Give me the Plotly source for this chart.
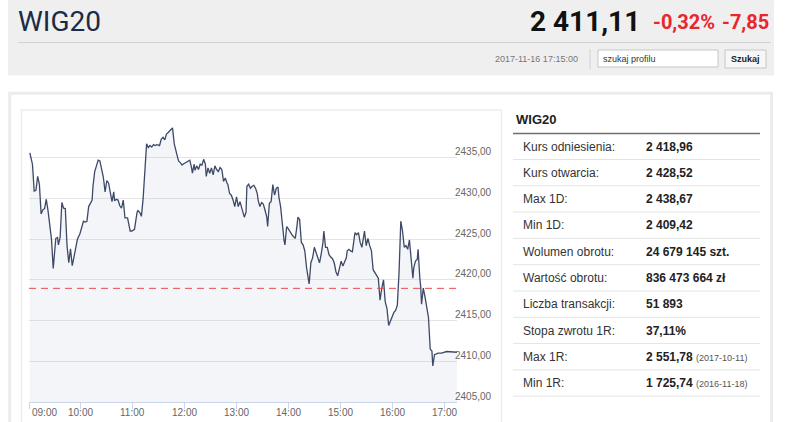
import pandas as pd
import plotly.graph_objects as go

# -------------------------------
# Data (WIG20, 2017-11-16)
# -------------------------------
session_day = "2017-11-16"

minutes_after_open = [
    1, 4, 6, 8, 10, 12, 14, 16, 18, 20, 22, 24, 26, 28, 31, 33, 34, 36, 38, 40,
    42, 44, 46, 48, 50, 52, 54, 56, 59, 61, 63, 65, 67, 69, 71, 73, 74, 76, 78, 80,
    82, 84, 86, 88, 90, 92, 94, 96, 98, 99, 101, 103, 105, 107, 109, 111, 114, 117, 119, 122,
    125, 126, 128, 130, 132, 134, 136, 138, 140, 142, 144, 146, 148, 150, 151, 153, 155, 157, 159, 161,
    163, 165, 166, 168, 171, 173, 175, 177, 178, 180, 182, 184, 186, 188, 189, 191, 192, 194, 196, 198,
    200, 202, 204, 205, 207, 209, 211, 213, 215, 217, 219, 221, 223, 225, 227, 229, 230, 232, 234, 236,
    238, 240, 242, 244, 246, 249, 251, 252, 254, 256, 258, 260, 262, 264, 265, 267, 269, 271, 273, 275,
    276, 278, 280, 282, 284, 286, 288, 289, 291, 293, 295, 296, 298, 300, 302, 304, 306, 308, 310, 311,
    313, 315, 317, 319, 321, 323, 324, 326, 328, 330, 332, 334, 336, 338, 340, 341, 343, 345, 347, 349,
    351, 353, 355, 357, 359, 361, 363, 365, 367, 368, 370, 372, 374, 377, 379, 381, 383, 385, 387, 388,
    390, 392, 394, 396, 398, 400, 402, 404, 406, 408, 410, 412, 414, 416, 418, 420, 422, 424, 426, 428,
    429, 430, 432, 434, 436, 438, 440, 442, 444, 445, 447, 449, 450, 452, 453, 454, 456, 458, 460, 462,
    464, 466, 467, 469, 473, 477, 483, 489, 495,
]

wig20 = [
    2435.6, 2434.2, 2430.9, 2431.0, 2432.7, 2431.75, 2428.1, 2428.6, 2428.75, 2429.9,
    2428.5, 2426.5, 2425.0, 2421.4, 2425.1, 2425.2, 2424.3, 2425.2, 2429.5, 2428.8,
    2428.75, 2424.2, 2422.1, 2423.8, 2421.75, 2422.8, 2423.75, 2425.0, 2425.7, 2426.5,
    2427.2, 2427.1, 2427.2, 2429.0, 2429.5, 2429.8, 2431.5, 2433.3, 2434.0, 2434.7,
    2434.6, 2433.75, 2432.6, 2430.8, 2432.2, 2431.9, 2430.8, 2429.6, 2430.8, 2429.7,
    2429.9, 2429.8, 2429.1, 2428.8, 2429.8, 2427.6, 2427.6, 2426.0, 2426.0, 2426.2,
    2428.3, 2428.5, 2428.3, 2427.8, 2430.0, 2433.3, 2436.7, 2436.25, 2436.5, 2436.3,
    2436.6, 2436.5, 2436.6, 2436.55, 2436.5, 2437.3, 2437.5, 2437.2, 2437.9, 2438.1,
    2438.4, 2438.55, 2438.67, 2436.7, 2435.4, 2434.6, 2434.4, 2434.1, 2434.2, 2434.3,
    2434.4, 2434.6, 2434.7, 2433.75, 2433.1, 2434.2, 2433.45, 2434.0, 2433.55, 2434.2,
    2434.1, 2434.8, 2434.2, 2432.7, 2433.75, 2433.1, 2433.75, 2432.9, 2434.0, 2433.55,
    2433.3, 2433.8, 2433.55, 2432.1, 2432.5, 2431.9, 2431.7, 2430.6, 2430.4, 2429.8,
    2429.0, 2430.2, 2429.0, 2429.6, 2428.75, 2427.7, 2428.3, 2431.5, 2431.75, 2431.25,
    2431.5, 2431.6, 2431.25, 2430.6, 2429.8, 2429.0, 2429.5, 2429.3, 2428.55, 2427.7,
    2426.55, 2429.4, 2429.6, 2431.7, 2430.4, 2431.25, 2431.4, 2430.2, 2429.0, 2426.7,
    2424.8, 2424.3, 2426.55, 2426.25, 2425.8, 2425.55, 2425.3, 2425.1, 2426.7, 2427.7,
    2427.4, 2424.6, 2424.3, 2423.55, 2421.5, 2420.0, 2419.5, 2422.1, 2422.7, 2424.0,
    2423.3, 2422.9, 2422.1, 2423.2, 2424.6, 2426.0, 2424.0, 2424.0, 2423.1, 2422.8,
    2422.6, 2422.1, 2421.0, 2420.5, 2421.25, 2422.3, 2421.7, 2422.3, 2422.7, 2423.55,
    2423.75, 2423.55, 2423.45, 2425.8, 2425.55, 2425.8, 2424.6, 2424.0, 2425.8, 2426.0,
    2424.2, 2425.1, 2424.2, 2423.6, 2421.25, 2420.8, 2420.55, 2420.2, 2417.5, 2419.0,
    2420.0, 2417.3, 2416.5, 2414.4, 2415.0, 2415.6, 2416.0, 2416.25, 2416.9, 2421.0,
    2425.0, 2427.2, 2426.0, 2424.0, 2424.2, 2423.75, 2424.9, 2422.1, 2420.2, 2421.5,
    2422.3, 2422.5, 2423.75, 2420.2, 2419.2, 2417.0, 2419.0, 2417.9, 2416.7, 2415.4,
    2411.5, 2411.25, 2409.42, 2410.8, 2411.0, 2411.0, 2411.2, 2411.2, 2411.11,
]

ref_price = 2418.96

hour_ticks = ["09:00", "10:00", "11:00", "12:00", "13:00", "14:00", "15:00", "16:00", "17:00"]
y_ticks = [2405, 2410, 2415, 2420, 2425, 2430, 2435, 2440]
y_tick_labels = ["2405,00", "2410,00", "2415,00", "2420,00", "2425,00", "2430,00", "2435,00", ""]

stat_labels = [
    "Kurs odniesienia:", "Kurs otwarcia:", "Max 1D:", "Min 1D:", "Wolumen obrotu:",
    "Wartość obrotu:", "Liczba transakcji:", "Stopa zwrotu 1R:", "Max 1R:", "Min 1R:",
]
stat_values = [
    "2 418,96", "2 428,52", "2 438,67", "2 409,42", "24 679 145 szt.",
    "836 473 664 zł", "51 893", "37,11%", "2 551,78", "1 725,74",
]
stat_dates = ["", "", "", "", "", "", "", "", "(2017-10-11)", "(2016-11-18)"]

last_price = "2 411,11"
change_pct = "-0,32%"
change_abs = "-7,85"
stamp = "2017-11-16 17:15:00"

# -------------------------------
# Page geometry (pixels) -> paper coords
# -------------------------------
W, H = 786, 422
PL, PR, PT, PB = 29, 457, 117, 402


def px(X):
    return (X - PL) / (PR - PL)


def py(Y):
    return (PB - Y) / (PB - PT)


times = pd.Timestamp(session_day + " 09:00") + pd.to_timedelta(minutes_after_open, unit="min")
tick_times = [pd.Timestamp(session_day + " " + h) for h in hour_ticks]

fig = go.Figure()

fig.add_trace(go.Scatter(
    x=times, y=wig20,
    mode="lines",
    line=dict(color="#3d4966", width=1.3),
    fill="tozeroy",
    fillcolor="rgba(180,190,210,0.15)",
    hoverinfo="x+y",
    showlegend=False,
))

shapes = []


def rect(x0, y0, x1, y1, fill="rgba(0,0,0,0)", line="rgba(0,0,0,0)", lw=0):
    shapes.append(dict(type="rect", xref="paper", yref="paper",
                       x0=px(x0), x1=px(x1), y0=py(y1), y1=py(y0),
                       fillcolor=fill, line=dict(color=line, width=lw), layer="below"))


def hline(x0, x1, y, color, lw=1):
    shapes.append(dict(type="line", xref="paper", yref="paper",
                       x0=px(x0), x1=px(x1), y0=py(y), y1=py(y),
                       line=dict(color=color, width=lw), layer="below"))


# header band
rect(8, -5, 774, 75.5, fill="#efefef")
hline(18, 771, 42.5, "#d2d2d2")
shapes.append(dict(type="line", xref="paper", yref="paper", x0=px(590), x1=px(590),
                   y0=py(69), y1=py(49), line=dict(color="#d0d0d0", width=1), layer="below"))
rect(598, 50, 718, 67, fill="white", line="#c6c6c6", lw=1)
rect(725, 50, 766, 68, fill="#f7f7f7", line="#c6c6c6", lw=1)

# main panel + chart frame
rect(9.7, 93.3, 771.5, 445, line="#ececec", lw=3)
rect(21.5, 110, 501.5, 445, line="#ededed", lw=1.5)

# stats table lines
hline(513, 760, 133.5, "#6e6e6e", 1.5)
for i in range(len(stat_labels)):
    hline(513, 760, 159.5 + 26.3 * i, "#e4e4e4")

# reference price line
shapes.append(dict(type="line", xref="paper", yref="y", x0=0, x1=1, y0=ref_price, y1=ref_price,
                   line=dict(color="#ec4a4a", width=1, dash="7px,5px")))

ann = []


def text(x, y, s, size, color, anchor="left", family="Liberation Sans, Arial, sans-serif", yanchor="middle"):
    ann.append(dict(x=px(x), y=py(y), xref="paper", yref="paper", text=s, showarrow=False,
                    xanchor=anchor, yanchor=yanchor,
                    font=dict(size=size, color=color, family=family)))


head = "Roboto, Liberation Sans, sans-serif"
text(16, 21, "WIG20", 28, "#1b2a47", family=head)
text(642, 21, "<b>" + last_price + "</b>", 28, "#111111", anchor="right", family=head)
text(651, 22, "<b>" + change_pct + "</b>", 20, "#e8262b", family=head)
text(771, 22, "<b>" + change_abs + "</b>", 20, "#e8262b", anchor="right", family=head)
text(580, 59, stamp, 9, "#777777", anchor="right")
text(601, 58.5, "szukaj profilu", 9, "#333333")
text(745.5, 59, "<b>Szukaj</b>", 9, "#222222", anchor="center")

# stats table
text(514, 119, "<b>WIG20</b>", 13, "#222222")
for i, (lab, val, d) in enumerate(zip(stat_labels, stat_values, stat_dates)):
    yy = 146.5 + 26.3 * i
    text(521, yy, lab, 12, "#333333")
    s = "<b>" + val + "</b>"
    if d:
        s += " <span style='font-size:9px;color:#555555'>" + d + "</span>"
    text(644, yy, s, 12, "#222222")

# axis labels
for v, lab in zip(y_ticks, y_tick_labels):
    if lab:
        ann.append(dict(x=px(453), xref="paper", y=v, yref="y", yshift=6, text=lab,
                        showarrow=False, xanchor="left", yanchor="middle",
                        font=dict(size=10, color="#666666")))
for i, (tt, lab) in enumerate(zip(tick_times, hour_ticks)):
    ann.append(dict(x=tt, xref="x", y=py(413), yref="paper", text=lab, showarrow=False,
                    xanchor="left" if i == 0 else "center", xshift=1 if i == 0 else 0,
                    yanchor="middle", font=dict(size=10, color="#666666")))

fig.update_layout(
    width=W, height=H, autosize=False,
    margin=dict(l=PL, r=W - PR, t=PT, b=H - PB, pad=0),
    paper_bgcolor="white",
    plot_bgcolor="rgba(0,0,0,0)",
    font=dict(family="Liberation Sans, Arial, sans-serif", size=10, color="#666666"),
    showlegend=False,
    shapes=shapes,
    annotations=ann,
    xaxis=dict(
        type="date",
        range=[pd.Timestamp(session_day + " 09:00"), pd.Timestamp(session_day + " 17:15")],
        showgrid=False, zeroline=False,
        showline=True, linecolor="#ccd6eb", linewidth=1,
        ticks="outside", ticklen=6, tickcolor="#ccd6eb", tickwidth=1,
        tickvals=tick_times, showticklabels=False,
        fixedrange=True,
    ),
    yaxis=dict(
        range=[2405, 2440],
        tickvals=y_ticks, showticklabels=False,
        showgrid=True, gridcolor="#e4e4e4", gridwidth=1,
        zeroline=False, showline=False, ticks="",
        fixedrange=True,
    ),
)

# page body has an 8px default margin; drop it so the figure sits at 0,0
fig.write_html("out.html", config={"displayModeBar": False},
               post_script="document.body.style.margin='0px';")
